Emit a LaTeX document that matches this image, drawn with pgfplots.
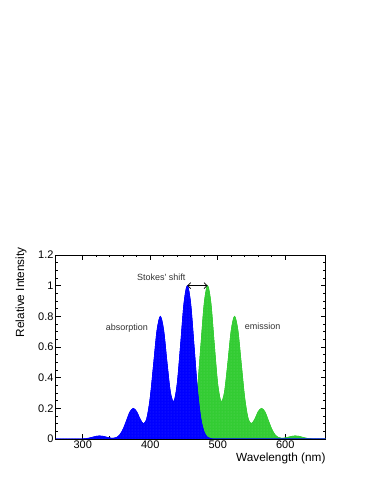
\documentclass[border=0pt]{standalone}
\usepackage{fontspec}
\setmainfont{Liberation Sans}
\usepackage{pgfplots}
\usepackage{pgfplotstable}
\pgfplotsset{compat=1.18}
\usetikzlibrary{patterns,arrows.meta}
\definecolor{rootblue}{RGB}{0,0,255}
\definecolor{rootgreen}{RGB}{51,204,51}

% absorption spectrum
\pgfplotstableread{
x y
260 0
290 0
295 0.0002
300 0.0009
305 0.0027
310 0.0065
315 0.0121
320 0.0177
325 0.0200
330 0.0177
335 0.0122
340 0.0069
345 0.0049
350 0.0097
355 0.0273
360 0.065
365 0.121
370 0.177
375 0.200
380 0.178
385 0.130
390 0.100
395 0.135
400 0.269
405 0.487
410 0.706
415 0.800
420 0.708
425 0.496
430 0.304
435 0.244
440 0.360
445 0.615
450 0.884
455 1.000
460 0.883
465 0.607
470 0.325
475 0.135
480 0.044
485 0.011
490 0.002
495 0
500 0
660 0
}\absorption

% emission spectrum
\pgfplotstableread{
x y
430 0
440 0
445 0
450 0.002
455 0.011
460 0.044
465 0.135
470 0.325
475 0.607
480 0.883
485 1.000
490 0.884
495 0.615
500 0.360
505 0.244
510 0.304
515 0.496
520 0.708
525 0.800
530 0.706
535 0.487
540 0.269
545 0.135
550 0.100
555 0.130
560 0.178
565 0.200
570 0.177
575 0.121
580 0.065
585 0.0273
590 0.0097
595 0.0049
600 0.0069
605 0.0122
610 0.0177
615 0.0200
620 0.0177
625 0.0121
630 0.0065
635 0.0027
640 0.0009
645 0.0002
650 0
660 0
}\emission

\begin{document}
\begin{tikzpicture}
\path (0,0) rectangle (374pt,484pt);
\begin{axis}[
  at={(55.7pt,45pt)}, anchor=south west,
  width=270pt, height=184pt, scale only axis,
  xmin=260, xmax=660, ymin=0, ymax=1.2,
  xtick={300,400,500,600},
  ytick={0,0.2,0.4,0.6,0.8,1,1.2},
  minor x tick num=4, minor y tick num=3,
  tick align=inside,
  major tick length=5pt, minor tick length=2.5pt,
  axis line style={black, line width=0.6pt},
  every tick/.style={black, line width=0.5pt},
  /pgf/number format/assume math mode=true,
  tick label style={font=\fontsize{11}{13}\selectfont},
  xticklabel style={inner sep=1pt, yshift=-1pt},
  yticklabel style={inner sep=1pt, xshift=-1pt},
  xlabel={Wavelength (nm)},
  ylabel={Relative Intensity},
  label style={font=\fontsize{11.8}{14}\selectfont},
  xlabel style={at={(axis description cs:1,-0.105)}, anchor=east, inner sep=0pt},
  ylabel style={at={(axis description cs:-0.1285,1.043)}, anchor=east, inner sep=0pt},
  clip=true,
]
\addplot[draw=rootgreen, fill=rootgreen, line width=0.6pt, smooth,
  postaction={pattern=dots, pattern color=rootgreen!75!white}] table {\emission} \closedcycle;
\addplot[draw=rootblue, fill=rootblue, line width=0.6pt, smooth,
  postaction={pattern=dots, pattern color=rootblue!80!white}] table {\absorption} \closedcycle;
\draw[{Straight Barb[length=3pt,width=6pt]}-{Straight Barb[length=3pt,width=6pt]}, line width=0.7pt]
  (axis cs:455,1.0) -- (axis cs:485,1.0);
\node[font=\fontsize{9}{11}\selectfont, text=black!80] at (axis cs:365.5,0.726) {absorption};
\node[font=\fontsize{9}{11}\selectfont, text=black!80] at (axis cs:566.7,0.737) {emission};
\node[font=\fontsize{9}{11}\selectfont, text=black!80] at (axis cs:416.5,1.057) {Stokes\textquotesingle{} shift};
\end{axis}
\end{tikzpicture}
\end{document}
